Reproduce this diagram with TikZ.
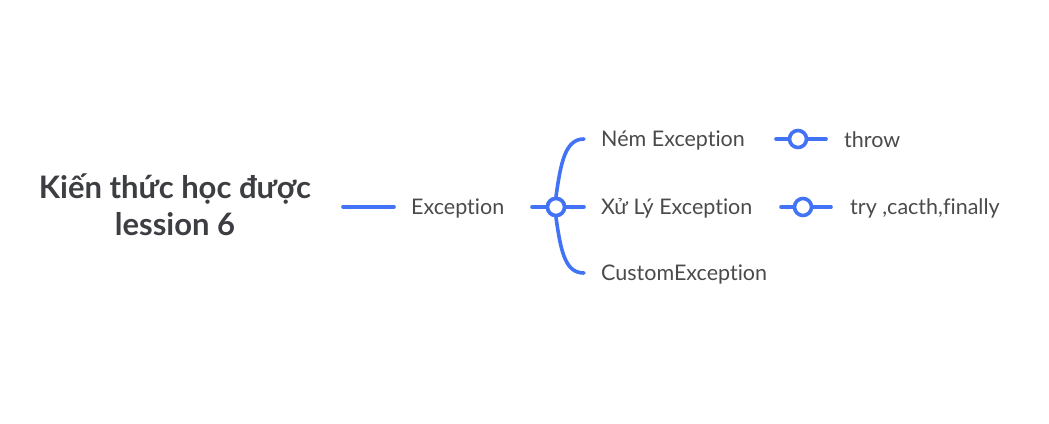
\documentclass[tikz,border=0pt]{standalone}
\usepackage{fontspec}
\setmainfont{Lato}[Ligatures=NoCommon]
\definecolor{mmblue}{RGB}{66,114,245}
\definecolor{mmtext}{RGB}{74,74,74}
\definecolor{mmtitle}{RGB}{60,62,66}
\begin{document}
\begin{tikzpicture}[x=1pt,y=-1pt,
  conn/.style={draw=mmblue,line width=3.6pt,line cap=round},
  knob/.style={circle,draw=mmblue,line width=3.6pt,fill=white,minimum size=17pt,inner sep=0pt},
  topic/.style={anchor=west,inner sep=0pt,text=mmtext,font=\fontsize{21.5}{25}\selectfont},
  title/.style={align=center,inner sep=0pt,text=mmtitle,font=\bfseries\fontsize{31}{37}\selectfont}]
\useasboundingbox (0,0) rectangle (1049,423);
\node[title] (root) at (175,205) {Kiến thức học được\\lession 6};
\coordinate (r1) at (343,207);
\coordinate (r2) at (394,207);
\draw[conn] (r1) -- (r2);
\node[topic] (exc) at (411,208) {Exception};
\coordinate (e1) at (532,207);
\coordinate (e2) at (584,207);
\coordinate (up) at (584,139);
\coordinate (dn) at (584,273);
\node[knob] (k1) at (556,207) {};
\draw[conn] (e1) -- (k1.west);
\draw[conn] (k1.east) -- (e2);
\draw[conn] (k1.north) .. controls (561,160) and (566,139) .. (up);
\draw[conn] (k1.south) .. controls (561,254) and (566,273) .. (dn);
\node[knob] at (556,207) {};
\node[topic] (nem) at (601,140) {Ném Exception};
\node[topic] (xu) at (601,208) {Xử Lý Exception};
\node[topic] (cus) at (601,274) {CustomException};
\coordinate (t1) at (776,139);
\coordinate (t2) at (826,139);
\node[knob] (k2) at (798,139) {};
\draw[conn] (t1) -- (k2.west);
\draw[conn] (k2.east) -- (t2);
\node[topic] (throw) at (844,140) {throw};
\coordinate (y1) at (781,207);
\coordinate (y2) at (831,207);
\node[knob] (k3) at (803,207) {};
\draw[conn] (y1) -- (k3.west);
\draw[conn] (k3.east) -- (y2);
\node[topic] (try) at (850,208) {try ,cacth,finally};
\end{tikzpicture}
\end{document}
